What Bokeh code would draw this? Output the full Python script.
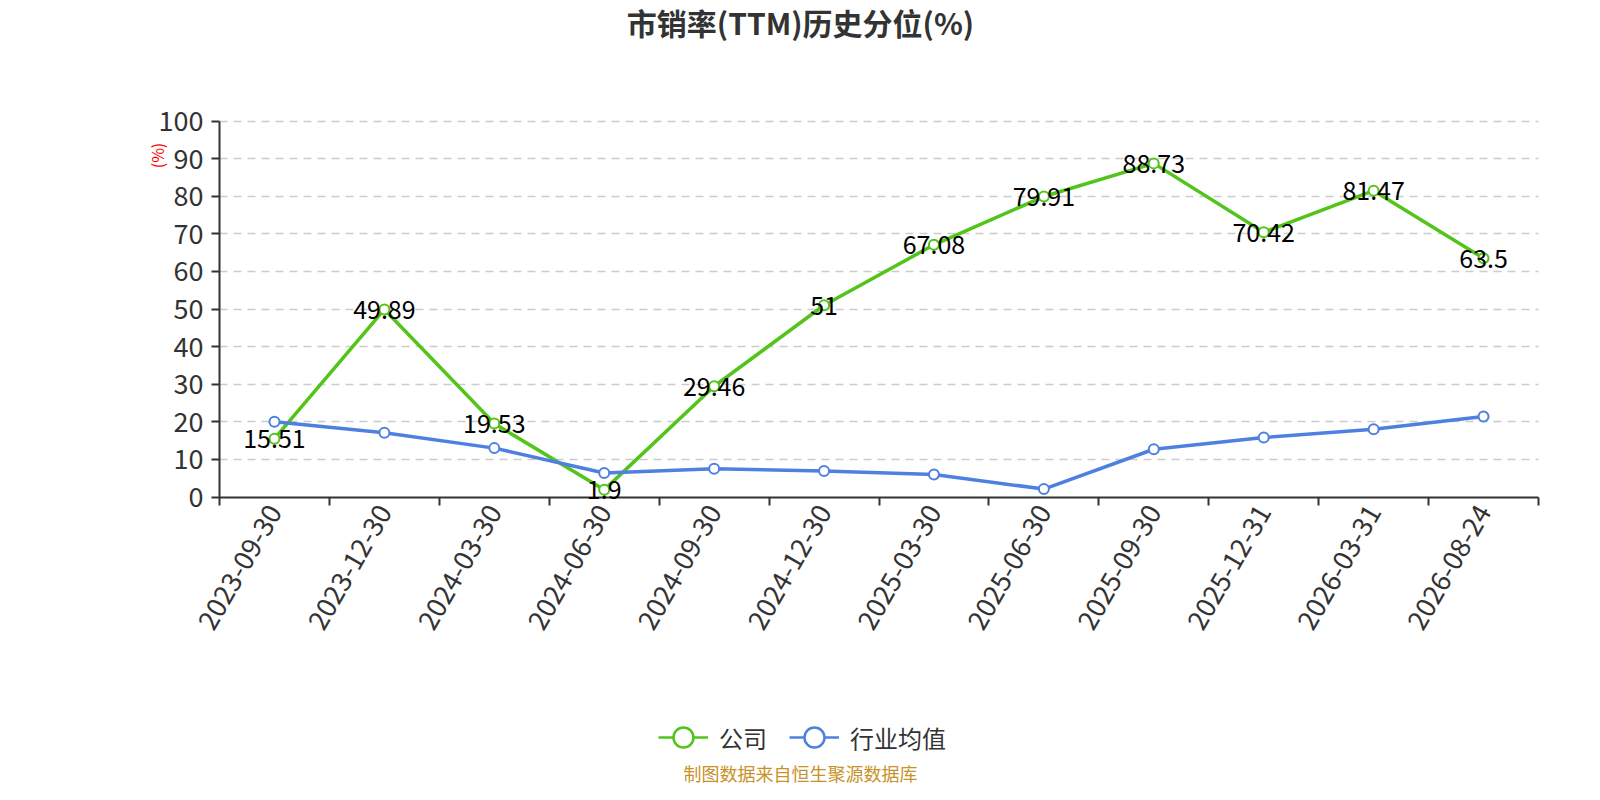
import math
import numpy as np
from bokeh.plotting import figure
from bokeh.models import (ColumnDataSource, Range1d, FixedTicker, Label, LabelSet,
                          Legend, LegendItem)
from bokeh.core.properties import value
from bokeh.embed import file_html
from bokeh.resources import INLINE

# ---------------- data ----------------
dates = ["2023-09-30", "2023-12-30", "2024-03-30", "2024-06-30", "2024-09-30", "2024-12-30",
         "2025-03-30", "2025-06-30", "2025-09-30", "2025-12-31", "2026-03-31", "2026-08-24"]
company = [15.51, 49.89, 19.53, 1.9, 29.46, 51, 67.08, 79.91, 88.73, 70.42, 81.47, 63.5]
industry = [20.0, 17.1, 13.0, 6.4, 7.5, 6.9, 6.0, 2.1, 12.7, 15.8, 18.0, 21.4]
y_ticks = list(range(0, 101, 10))
series_names = ["公司", "行业均值"]
title_text = "市销率(TTM)历史分位(%)"
unit_text = "(%)"
source_note = "制图数据来自恒生聚源数据库"

# ---------------- style / layout ----------------
GREEN = "#52c41a"
BLUE = "#4e80e1"
FONT = "Noto Sans CJK SC"
TXT = "#333333"

W, H = 1584, 784
# plotting area (pixels from the top-left of the canvas)
PL, PR, PT, PB = 219, 1538, 120.5, 496.5
n = len(dates)
x_lo, x_hi = -0.5, n - 0.5
y_lo, y_hi = y_ticks[0], y_ticks[-1]
xs = (x_hi - x_lo) / (PR - PL)
ys = (y_hi - y_lo) / (PB - PT)
x_range = Range1d(x_lo - PL * xs, x_hi + (W - PR) * xs)
y_range = Range1d(y_lo - (H - PB) * ys, y_hi + PT * ys)

idx = list(range(n))

p = figure(width=W, height=H, output_backend="svg", toolbar_location=None,
           x_range=x_range, y_range=y_range,
           min_border_left=0, min_border_right=0, min_border_top=0, min_border_bottom=0)
p.outline_line_color = None
p.background_fill_color = "white"
p.border_fill_color = "white"

# x axis: labels at category centres, tick marks at boundaries
xa = p.xaxis[0]
xa.fixed_location = y_lo
xa.bounds = (x_lo, x_hi)
xa.ticker = FixedTicker(ticks=idx, minor_ticks=[i - 0.5 for i in range(n + 1)])
xa.major_label_overrides = {i: d for i, d in enumerate(dates)}
xa.major_tick_out = 0
xa.major_tick_in = 0
xa.minor_tick_out = 8
xa.minor_tick_in = 0
xa.minor_tick_line_color = TXT
xa.minor_tick_line_width = 2
xa.axis_line_color = TXT
xa.axis_line_width = 2
xa.major_label_orientation = math.pi / 3
xa.major_label_text_font = FONT
xa.major_label_text_font_size = "27px"
xa.major_label_text_color = TXT
xa.major_label_standoff = 2

ya = p.yaxis[0]
ya.fixed_location = x_lo
ya.bounds = (y_lo, y_hi)
ya.ticker = FixedTicker(ticks=y_ticks, minor_ticks=[])
ya.major_tick_out = 8
ya.major_tick_in = 0
ya.major_tick_line_color = TXT
ya.major_tick_line_width = 2
ya.axis_line_color = TXT
ya.axis_line_width = 2
ya.major_label_text_font = FONT
ya.major_label_text_font_size = "27px"
ya.major_label_text_color = TXT
ya.major_label_standoff = 8

p.xgrid.visible = False
p.ygrid.ticker = FixedTicker(ticks=y_ticks[1:])
p.ygrid.cross_bounds = (x_lo, x_hi)
p.ygrid.grid_line_color = "#cccccc"
p.ygrid.grid_line_dash = "8 6"
p.ygrid.grid_line_width = 1.5

src = ColumnDataSource(dict(x=idx, company=company, industry=industry,
                            clabel=[f"{v:g}" for v in company]))

p.line("x", "company", source=src, line_color=GREEN, line_width=3.5)
p.scatter("x", "company", source=src, size=10, fill_color="white",
          line_color=GREEN, line_width=2)
p.line("x", "industry", source=src, line_color=BLUE, line_width=3.5)
p.scatter("x", "industry", source=src, size=10, fill_color="white",
          line_color=BLUE, line_width=2)

labels = LabelSet(x="x", y="company", text="clabel", source=src,
                  text_align="center", text_baseline="middle",
                  text_font=value(FONT), text_font_size="25px", text_color="black")
p.add_layout(labels)

# legend (dummy renderers only carry the legend icon styles)
lg_src = ColumnDataSource(dict(x=[np.nan], y=[np.nan]))
gl = p.line("x", "y", source=lg_src, line_color=GREEN, line_width=2.5)
gs = p.scatter("x", "y", source=lg_src, size=20, fill_color="white",
               line_color=GREEN, line_width=2.5)
bl = p.line("x", "y", source=lg_src, line_color=BLUE, line_width=2.5)
bs = p.scatter("x", "y", source=lg_src, size=20, fill_color="white",
               line_color=BLUE, line_width=2.5)
legend = Legend(items=[LegendItem(label=series_names[0], renderers=[gl, gs]),
                       LegendItem(label=series_names[1], renderers=[bl, bs])],
                orientation="horizontal", location=(658, H - 712 - 50),
                glyph_width=50, glyph_height=50, label_standoff=11, spacing=22,
                padding=0, margin=0, border_line_color=None,
                background_fill_alpha=0,
                label_text_font=FONT, label_text_font_size="24px",
                label_text_color=TXT)
p.add_layout(legend)

p.add_layout(Label(x=800, y=H - 21, x_units="screen", y_units="screen",
                   text=title_text, text_align="center", text_baseline="middle",
                   text_font=FONT, text_font_size="30px", text_font_style="bold",
                   text_color=TXT))
p.add_layout(Label(x=156, y=H - 155, x_units="screen", y_units="screen",
                   text=unit_text, angle=math.pi / 2, text_align="center",
                   text_baseline="middle", text_font=FONT, text_font_size="16px",
                   text_color="red"))
p.add_layout(Label(x=800, y=12, x_units="screen", y_units="screen",
                   text=source_note, text_align="center", text_baseline="middle",
                   text_font=FONT, text_font_size="18px", text_color="#c8922a"))

open("out.html", "w").write(file_html(p, INLINE))
